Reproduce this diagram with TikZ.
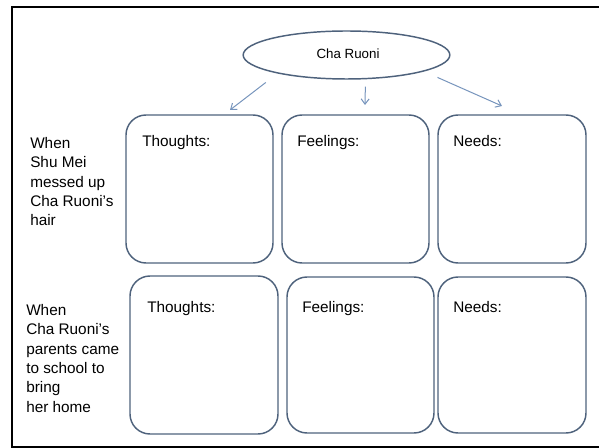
\documentclass[tikz,border=0pt]{standalone}
\usepackage{fontspec}
\setmainfont{Liberation Sans}
\usetikzlibrary{arrows.meta, positioning, shapes.geometric}
\definecolor{slateline}{RGB}{78,98,124}
\definecolor{arrowblue}{RGB}{118,148,188}

\begin{document}
\begin{tikzpicture}[x=0.75pt, y=-0.75pt,
    font=\fontsize{11.5}{14.55}\selectfont,
    card/.style={draw=slateline, line width=1.1pt, rounded corners=15pt, inner sep=0pt},
    head/.style={anchor=base west, inner sep=0pt},
    when/.style={anchor=north west, align=left, inner sep=0pt},
    link/.style={draw=arrowblue, line width=0.75pt, -{Straight Barb[length=4pt, width=6pt]}}]
  \useasboundingbox (0,0) rectangle (599,448);
  % sheet border, runs off to the right
  \draw[line width=1.5pt] (12,7) rectangle (640,447);

  % character bubble
  \node[ellipse, draw=slateline, line width=1.1pt, minimum width=155pt,
    minimum height=36pt, inner sep=0pt] (cha) at (346.5,55) {};
  \node[font=\fontsize{10}{12}\selectfont] (chaname) at (348,54) {Cha Ruoni};

  % boxes: name/x/y/width/height (px)
  \foreach \nm/\cx/\cy/\w/\h in {
      t1/199.5/189/147/148, f1/355.5/189/147/148, n1/512/189/148/148,
      t2/204/355/148/158,   f2/360.5/355/147/156, n2/512/355/148/156}
    \node[card, minimum width=\w*0.75pt, minimum height=\h*0.75pt] (\nm) at (\cx,\cy) {};
  % box headings
  \foreach \nm/\hx/\hy/\txt in {
      t1/142/147/Thoughts:, f1/297/147/Feelings:, n1/453/147/Needs:,
      t2/147/313/Thoughts:, f2/302/313/Feelings:, n2/453/313/Needs:}
    \node[head] (\nm-head) at (\hx,\hy) {\txt};

  % row captions
  \node[when] (event1) at (30,137) {When\\Shu Mei\\messed up\\Cha Ruoni’s\\hair};
  \node[when] (event2) at (26,304) {When\\Cha Ruoni’s\\parents came\\to school to\\bring\\her home};

  % arrows down to the first row
  \coordinate (tipL) at (230,110);
  \coordinate (tipM) at (365,105);
  \coordinate (tipR) at (502,106);
  \draw[link, shorten <=11pt] (cha.195) -- (tipL);
  \draw[link, shorten <=5.5pt] (cha.308) -- (tipM);
  \draw[link, shorten <=11pt] (cha.348.5) -- (tipR);
\end{tikzpicture}
\end{document}
